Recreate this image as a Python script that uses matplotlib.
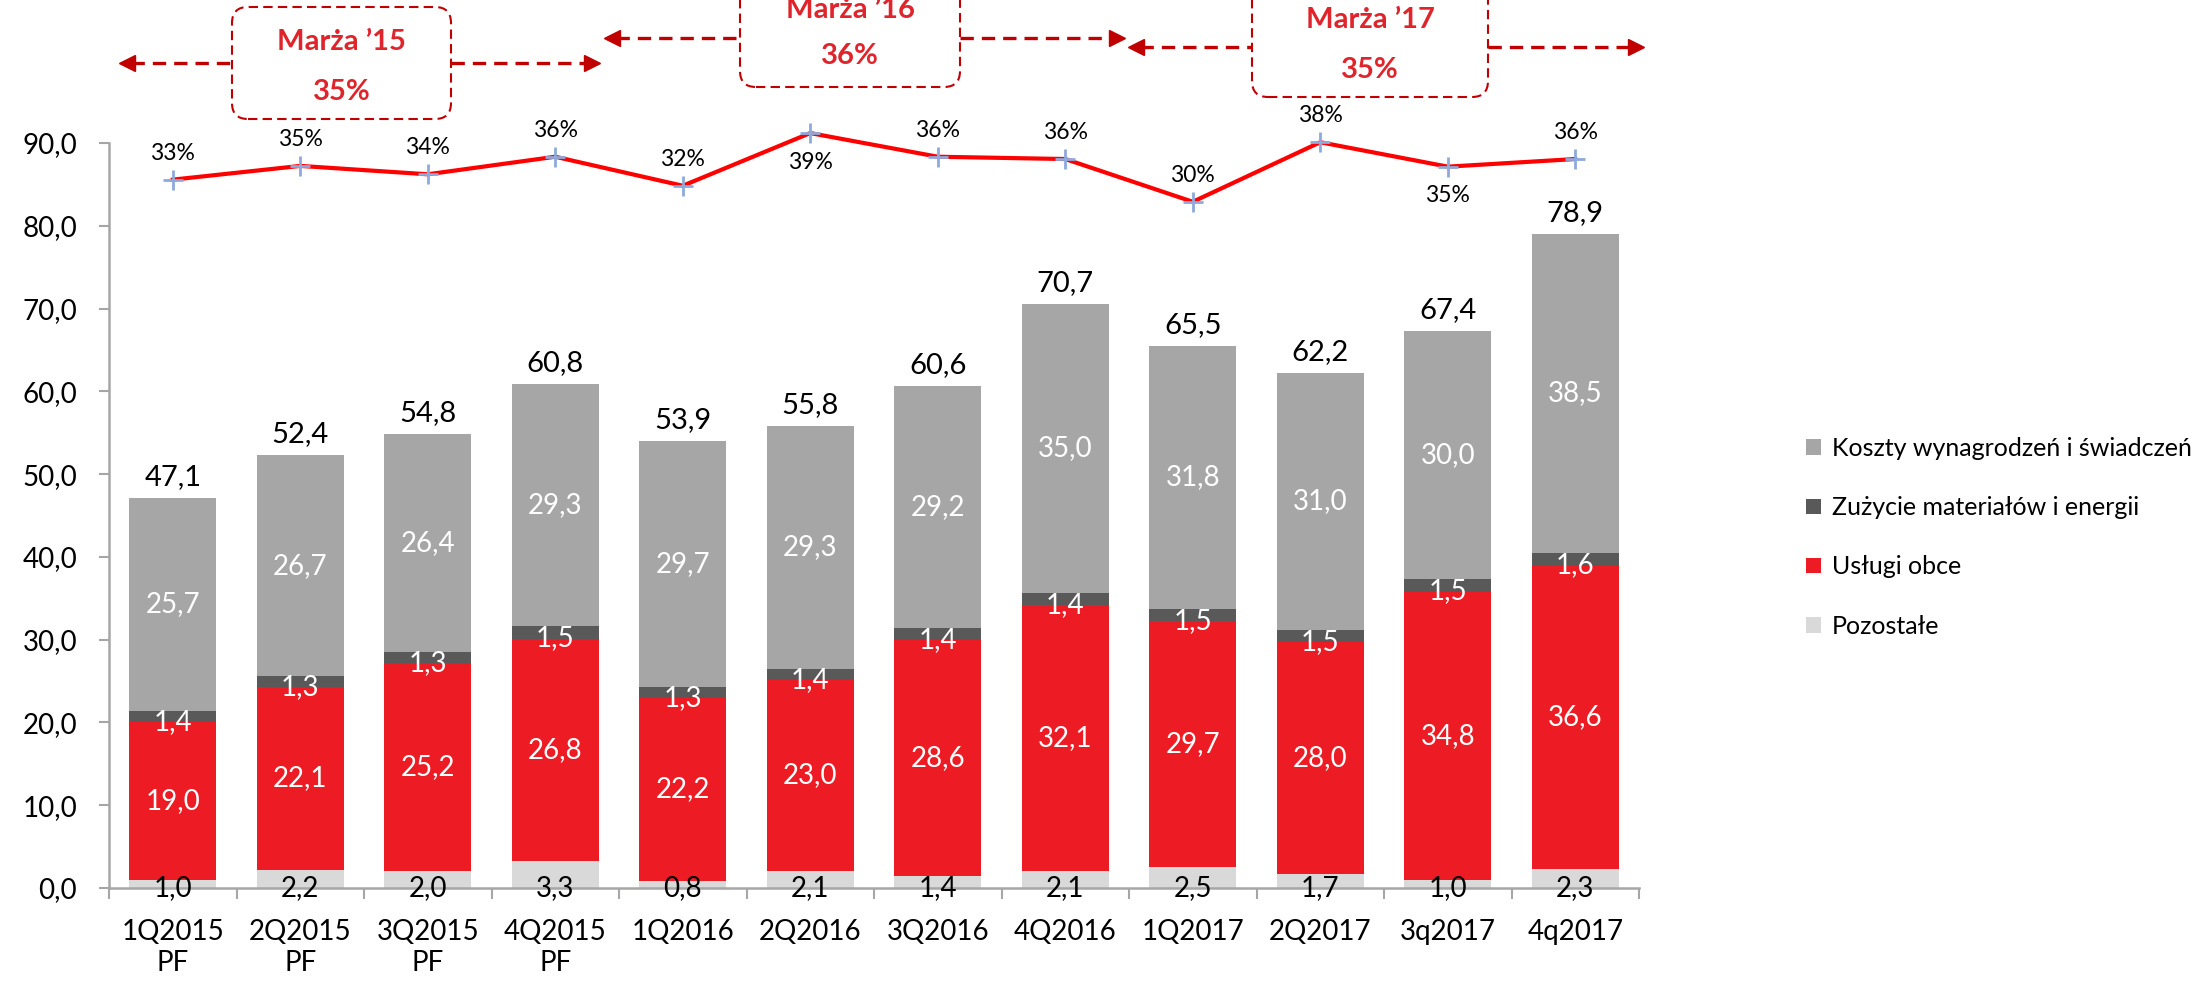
import numpy as np
import matplotlib
matplotlib.use('Agg')
import matplotlib.pyplot as plt
from matplotlib.patches import FancyBboxPatch
from matplotlib.lines import Line2D

plt.rcParams['font.family'] = ['Lato', 'DejaVu Sans']

# data
quarters = ['1Q2015\nPF', '2Q2015\nPF', '3Q2015\nPF', '4Q2015\nPF', '1Q2016', '2Q2016',
            '3Q2016', '4Q2016', '1Q2017', '2Q2017', '3q2017', '4q2017']
pozostale = [1.0, 2.2, 2.0, 3.3, 0.8, 2.1, 1.4, 2.1, 2.5, 1.7, 1.0, 2.3]
uslugi = [19.0, 22.1, 25.2, 26.8, 22.2, 23.0, 28.6, 32.1, 29.7, 28.0, 34.8, 36.6]
zuzycie = [1.4, 1.3, 1.3, 1.5, 1.3, 1.4, 1.4, 1.4, 1.5, 1.5, 1.5, 1.6]
koszty = [25.7, 26.7, 26.4, 29.3, 29.7, 29.3, 29.2, 35.0, 31.8, 31.0, 30.0, 38.5]
totals = [47.1, 52.4, 54.8, 60.8, 53.9, 55.8, 60.6, 70.7, 65.5, 62.2, 67.4, 78.9]
margins = [32.9, 34.7, 33.6, 35.9, 32.1, 39.0, 35.9, 35.6, 30.0, 37.8, 34.6, 35.6]
label_below = [5, 10]

periods = ['Marża \u201915', 'Marża \u201916', 'Marża \u201917']
period_margin = ['35%', '36%', '35%']

C_KOSZTY = '#A6A6A6'
C_ZUZ = '#595959'
C_USL = '#ED1C24'
C_POZ = '#D9D9D9'
C_AXIS = '#A6A6A6'
C_DARK = '#C00000'
C_TXT = '#E0242C'


def fmt(v):
    return ('%.1f' % v).replace('.', ',')


W, H = 2197, 989
fig = plt.figure(figsize=(W / 100, H / 100), dpi=100)
ax = fig.add_axes([109 / W, 1 - 888 / H, (1639 - 109) / W, (888 - 143) / H])

x = np.arange(len(quarters))
bw = 0.68
b1 = np.array(pozostale)
b2 = b1 + np.array(uslugi)
b3 = b2 + np.array(zuzycie)
top = b3 + np.array(koszty)

r_poz = ax.bar(x, pozostale, bw, color=C_POZ, edgecolor='none', label='Pozostałe')
r_usl = ax.bar(x, uslugi, bw, bottom=b1, color=C_USL, edgecolor='none', label='Usługi obce')
r_zuz = ax.bar(x, zuzycie, bw, bottom=b2, color=C_ZUZ, edgecolor='none',
               label='Zużycie materiałów i energii')
r_kos = ax.bar(x, koszty, bw, bottom=b3, color=C_KOSZTY, edgecolor='none',
               label='Koszty wynagrodzeń i świadczeń')

fs = 20
for i in x:
    ax.text(i, 0.0, fmt(pozostale[i]), ha='center', va='center', fontsize=fs, color='black')
    ax.text(i, b1[i] + uslugi[i] / 2, fmt(uslugi[i]), ha='center', va='center',
            fontsize=fs, color='white')
    ax.text(i, b2[i] + zuzycie[i] / 2 - 0.7, fmt(zuzycie[i]), ha='center', va='center',
            fontsize=fs, color='white')
    ax.text(i, b3[i] + koszty[i] / 2, fmt(koszty[i]), ha='center', va='center',
            fontsize=fs, color='white')
    ax.annotate(fmt(totals[i]), (i, top[i]), xytext=(0, 15), textcoords='offset points',
                ha='center', va='center', fontsize=21, color='black')

ax.set_xlim(-0.5, len(quarters) - 0.5)
ax.set_ylim(0, 90)
ax.set_yticks(np.arange(0, 91, 10))
ax.set_yticklabels([fmt(v) for v in np.arange(0, 91, 10)])
ax.set_xticks(x)
ax.set_xticklabels(quarters, linespacing=1.25)
ax.set_xticks(np.arange(-0.5, len(quarters), 1), minor=True)
ax.tick_params(axis='x', which='major', length=0, pad=22, labelsize=20)
ax.tick_params(axis='x', which='minor', length=8, width=1.5, color=C_AXIS, direction='out')
ax.tick_params(axis='y', length=7, width=1.5, color=C_AXIS, pad=16, labelsize=20)
for s in ['top', 'right']:
    ax.spines[s].set_visible(False)
for s in ['left', 'bottom']:
    ax.spines[s].set_color(C_AXIS)
    ax.spines[s].set_linewidth(1.8)

# margin line on a hidden secondary axis
ax2 = ax.twinx()
ax2.set_ylim(-59.9, 37.7)
ax2.axis('off')
ax2.plot(x, margins, color='#FF0000', lw=3, marker='+', ms=14, mec='#8EA9DB', mew=2,
         clip_on=False, zorder=5)
for i in x:
    dy = -21 if i in label_below else 19
    ax2.annotate('%d%%' % round(margins[i]), (i, margins[i]), xytext=(0, dy),
                 textcoords='offset points', ha='center', va='center', fontsize=16.5,
                 color='black', annotation_clip=False)

fig.legend([r_kos, r_zuz, r_usl, r_poz],
           [r_kos.get_label(), r_zuz.get_label(), r_usl.get_label(), r_poz.get_label()],
           loc='upper left', bbox_to_anchor=(1806 / W, 1 - 437 / H), frameon=False,
           fontsize=18, handlelength=0.58, handleheight=0.58, handletextpad=0.45,
           labelspacing=1.45, borderaxespad=0, borderpad=0)

# period annotations (pixel layout converted to inches)
tr = fig.dpi_scale_trans


def P(px, py):
    return px / 100, (H - py) / 100


boxes = [(232, 451, 7, 119), (740, 960, -60, 87), (1252, 1488, -50, 97)]
text_y = [(42, 92), (10, 56), (20, 70)]
arrows = [(119, 232, 451, 600, 63), (604, 740, 960, 1125, 38), (1128, 1252, 1488, 1644, 47)]

for k in range(3):
    x0, x1, y0, y1 = boxes[k]
    bx, by = P(x0, y1)
    fig.add_artist(FancyBboxPatch((bx, by), (x1 - x0) / 100, (y1 - y0) / 100,
                                  boxstyle='round,pad=0,rounding_size=0.16', transform=tr,
                                  fill=False, ec=C_DARK, lw=1.5, ls=(0, (4.5, 2.5))))
    cx = (x0 + x1) / 2
    fig.text(*P(cx, text_y[k][0]), periods[k], transform=tr, ha='center', va='center',
             fontsize=21, fontweight='bold', color=C_TXT)
    fig.text(*P(cx, text_y[k][1]), period_margin[k], transform=tr, ha='center', va='center',
             fontsize=21, fontweight='bold', color=C_TXT)
    la, lb, ra, rb, ay = arrows[k]
    for xa, xb in [(la + 12, lb), (ra, rb - 12)]:
        p0, p1 = P(xa, ay), P(xb, ay)
        fig.add_artist(Line2D([p0[0], p1[0]], [p0[1], p1[1]], transform=tr, color=C_DARK,
                              lw=2.4, ls=(0, (4, 2.4))))
    hl = P(la + 8, ay)
    hr = P(rb - 8, ay)
    fig.add_artist(Line2D([hl[0]], [hl[1]], transform=tr, marker='<', ms=12, color=C_DARK,
                          mec=C_DARK, ls='none'))
    fig.add_artist(Line2D([hr[0]], [hr[1]], transform=tr, marker='>', ms=12, color=C_DARK,
                          mec=C_DARK, ls='none'))

fig.savefig('out.png', dpi=100)
